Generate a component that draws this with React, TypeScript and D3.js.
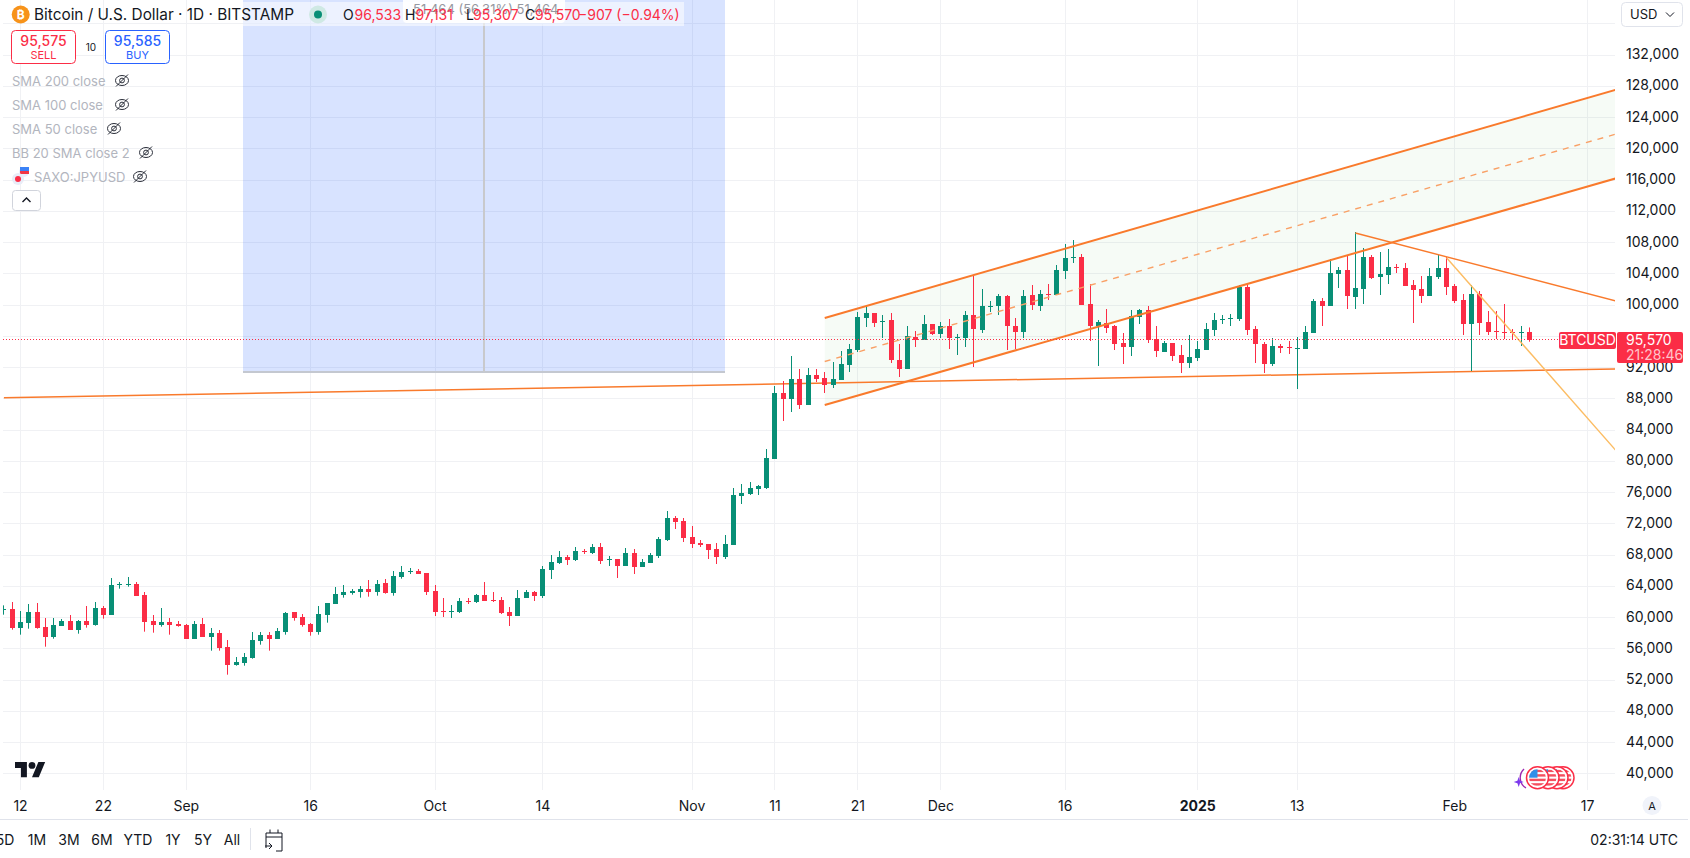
import React from "react";
import * as d3 from "d3";

const width = 1690;
const height = 858;
const plot = { left: 3, right: 1615, bottom: 790 };

const font = "Inter, 'Noto Sans', sans-serif";
const upColor = "#088f76";
const downColor = "#fb2d46";
const orange = "#f97a2c";
const textColor = "#131722";

// daily candles as [open, high, low, close], first one is 10 Aug 2024
const aug24 = [
  [61007, 61562, 60367, 61050], [61050, 61989, 58447, 58703], [58703, 60837, 57807, 59429], [59301, 61733, 58575, 60709],
  [60709, 61861, 58575, 58703], [58789, 59941, 56271, 57551], [57551, 59941, 57295, 59045], [58917, 59813, 58917, 59557],
  [59557, 60325, 58447, 58447], [58447, 59685, 57935, 59557], [59557, 61477, 58703, 59045], [59045, 61989, 58959, 61221],
  [61221, 61477, 59856, 60367], [60367, 65061, 60367, 64165], [64207, 64549, 63696, 64293], [64165, 65189, 63952, 64293],
  [64293, 64549, 62800, 62800], [62885, 63269, 58191, 59471], [59557, 60325, 58063, 59087], [59087, 61221, 58831, 59429],
  [59429, 59941, 57807, 59087], [59173, 59557, 58831, 58959],
];
const sep24 = [
  [59045, 59173, 57295, 57295], [57295, 59557, 57295, 59173], [59173, 59941, 57551, 57551], [57551, 58661, 55759, 58020],
  [58020, 58405, 55759, 56143], [56229, 57124, 52687, 53967], [53967, 54948, 53839, 54309], [54223, 55461, 53839, 54948],
  [54863, 58149, 54735, 57124], [57039, 58149, 56527, 57764], [57764, 58149, 55759, 57295], [57295, 58661, 57295, 58277],
  [58191, 60709, 57807, 60581], [60709, 60709, 59600, 59983], [60069, 60453, 58831, 59087], [59173, 59301, 57679, 58191],
  [58191, 61477, 57807, 60453], [60367, 61861, 59343, 61861], [61775, 63909, 61775, 63013], [62928, 64165, 62544, 63269],
  [63184, 63653, 62928, 63397], [63312, 64037, 62544, 63653], [63653, 64805, 62672, 63312], [63312, 64805, 62800, 64293],
  [64421, 64933, 63056, 63184], [63184, 65957, 62800, 65317], [65189, 66597, 64976, 65829], [65872, 66341, 65573, 65957],
  [65957, 66213, 65573, 65573], [65701, 65701, 62885, 63312],
];
const oct24 = [
  [63397, 64165, 60197, 60709], [60837, 62501, 60069, 60709], [60709, 61605, 59941, 60837], [60709, 62501, 60581, 62117],
  [62117, 62501, 61733, 61989], [61989, 63013, 61861, 62885], [62885, 64549, 62117, 62117], [62245, 63269, 61989, 62117],
  [62245, 62629, 60453, 60581], [60709, 61349, 58917, 60197], [60197, 63525, 60197, 62501], [62501, 63525, 62501, 63269],
  [63269, 63397, 62117, 62757], [62757, 66597, 62501, 66213], [66085, 68005, 64933, 67109], [66981, 68517, 66853, 67749],
  [67749, 68005, 66725, 67365], [67365, 69029, 67237, 68517], [68560, 68773, 68133, 68432], [68261, 69413, 68133, 69029],
  [69029, 69541, 66853, 67237], [67365, 67877, 66597, 67493], [67493, 67493, 65061, 66597], [66597, 68901, 66597, 68261],
  [68261, 68773, 65573, 66469], [66469, 67493, 66469, 67109], [66981, 68261, 66981, 68005], [67877, 70310, 67621, 70054],
  [69925, 73638, 69797, 72742], [72742, 72998, 71334, 72230], [72358, 72742, 69670, 70182],
];
const nov24 = [
  [70310, 71717, 68901, 69413], [69541, 69925, 69029, 69328], [69413, 69413, 67493, 68645], [68773, 69541, 66853, 67749],
  [67749, 70566, 67493, 69413], [69285, 76582, 69285, 75686], [75558, 77094, 74534, 75942], [75814, 77350, 75686, 76582],
  [76454, 76966, 75686, 76838], [76582, 81572, 76454, 80420], [80292, 89637, 80292, 88741], [88741, 90277, 85157, 87973],
  [87973, 93477, 86309, 90533], [90533, 91813, 86693, 87205], [87205, 91941, 87205, 91045], [91045, 91813, 90149, 90533],
  [90661, 91429, 88741, 89765], [89765, 92709, 89381, 90533], [90405, 94117, 90405, 92453], [92325, 95013, 91429, 94373],
  [94245, 99110, 93989, 98470], [98342, 99878, 97190, 98982], [98982, 98982, 97190, 97702], [97787, 98726, 95781, 97915],
  [98086, 98982, 92581, 92965], [92965, 95013, 90789, 91813], [91813, 97317, 91813, 96037], [95909, 96677, 94629, 95525],
  [95525, 98726, 95525, 97574], [97574, 97574, 96165, 96293],
];
const dec24 = [
  [96293, 97830, 95781, 97317], [97317, 98214, 94373, 95781], [95781, 96293, 93605, 95909], [95781, 99238, 94629, 98726],
  [98726, 103803, 92069, 96933], [96805, 102054, 96421, 99878], [99792, 100518, 99110, 99920], [99878, 101414, 98726, 101158],
  [101158, 101286, 94245, 97317], [97317, 98342, 94373, 96549], [96549, 101926, 95781, 101158], [101286, 102566, 99366, 100006],
  [99877, 101925, 99237, 101413], [101413, 102693, 100645, 101285], [101285, 105126, 101285, 104485], [104358, 107814, 103334, 106022],
  [106022, 108326, 105382, 106150], [106150, 106534, 100005, 100005], [100133, 102693, 95397, 97317], [97317, 98085, 92197, 97829],
  [97701, 99493, 96421, 97061], [97317, 97445, 94245, 95013], [95141, 96421, 92453, 94629], [94629, 99365, 93477, 98597],
  [98469, 99493, 97573, 99365], [99365, 99877, 95141, 95525], [95653, 97317, 93349, 94117], [93989, 95397, 93989, 95141],
  [95141, 95141, 92837, 93477], [93605, 94885, 91301, 92581], [92581, 96165, 91941, 93349],
];
const jan25 = [
  [93221, 95397, 92837, 94373], [94245, 97701, 94245, 96933], [96805, 98981, 96037, 98085], [98085, 98725, 97573, 98213],
  [98170, 98853, 97317, 98298], [98213, 102565, 97957, 102309], [102309, 102821, 96165, 96805], [96933, 97317, 92581, 95013],
  [95013, 95269, 91301, 92453], [92453, 95781, 92197, 94757], [94757, 95013, 93861, 94501], [94629, 95397, 93733, 94501],
  [94373, 95909, 89252, 94501], [94373, 97317, 94373, 96549], [96421, 100773, 96421, 100517], [100517, 100901, 97317, 99877],
  [99877, 105894, 99877, 104102], [103973, 104870, 102181, 104485], [104485, 106278, 99493, 101157], [101029, 109350, 99493, 102181],
  [102053, 107302, 100133, 106150], [106150, 106406, 103334, 103462], [103589, 106790, 101285, 103973], [103846, 107174, 102693, 104870],
  [104870, 105254, 104102, 104742], [104742, 105382, 102437, 102437], [102565, 103205, 97701, 101925], [102053, 103717, 100261, 101157],
  [101157, 104742, 101157, 103717], [103589, 106406, 103334, 104742], [104742, 106150, 101285, 102309],
];
const feb25 = [
  [102437, 102693, 100261, 100517], [100645, 101413, 96165, 97573], [97573, 102565, 91557, 101413], [101413, 101797, 96165, 97701],
  [97829, 99237, 96165, 96549], [96677, 99237, 95653, 96549], [96549, 100133, 95653, 96421], [96549, 96933, 95653, 96421],
  [96421, 97317, 94757, 96549], [96533, 97131, 95307, 95570],
];

const day = (m: number, d: number) => new Date(Date.UTC(m > 6 ? 2024 : 2025, m - 1, d));

const candleRows = [...aug24, ...sep24, ...oct24, ...nov24, ...dec24, ...jan25, ...feb25];
const firstDay = day(8, 10);

const timeTicks: [Date, string][] = [
  [day(8, 12), "12"], [day(8, 22), "22"], [day(9, 1), "Sep"], [day(9, 16), "16"], [day(10, 1), "Oct"],
  [day(10, 14), "14"], [day(11, 1), "Nov"], [day(11, 11), "11"], [day(11, 21), "21"], [day(12, 1), "Dec"],
  [day(12, 16), "16"], [day(1, 1), "2025"], [day(1, 13), "13"], [day(2, 1), "Feb"], [day(2, 17), "17"],
];
const priceTicks = d3.range(40000, 136001, 4000);
const priceLabelsHidden = [96000, 136000];

const lastClose = 95570;
const channelTop: [Date, number][] = [[day(11, 17), 98340], [day(2, 21), 127730]];
const channelBottom: [Date, number][] = [[day(11, 17), 87210], [day(2, 21), 116390]];
const supportLine: [Date, number][] = [[day(8, 10), 88140], [day(2, 21), 91830]];
const resistanceLine: [Date, number][] = [[day(1, 20), 109220], [day(2, 21), 100350]];
const breakLine: [Date, number][] = [[day(1, 31), 106060], [day(2, 21), 80690]];

const indicators = [
  { name: "SMA 200 close", iconX: 122 },
  { name: "SMA 100 close", iconX: 122 },
  { name: "SMA 50 close", iconX: 114 },
  { name: "BB 20 SMA close 2", iconX: 146 },
  { name: "SAXO:JPYUSD", iconX: 140 },
];
const ranges = [["5D", 5], ["1M", 37], ["3M", 69], ["6M", 102], ["YTD", 138], ["1Y", 173], ["5Y", 203], ["All", 232]] as const;
const eventCircles = [1563, 1557, 1548, 1537.5];

const x = d3.scaleUtc().domain([day(8, 12), day(2, 17)]).range([20.5, 1587.5]);
const y = d3.scaleLinear().domain([40000, 136000]).range([773.8, 23.8]);
const crisp = (v: number) => Math.floor(v) + 0.5;
const lineGen = d3.line<[Date, number]>().x(d => x(d[0])).y(d => y(d[1]));

const EyeOff = ({ cx, cy }: { cx: number; cy: number }) => (
  <g transform={`translate(${cx},${cy})`} fill="none" stroke="#2a2e39" strokeWidth={1}>
    <ellipse cx={0} cy={0} rx={6.5} ry={5} />
    <circle cx={0} cy={0} r={2.4} />
    <line x1={-6} y1={6} x2={6} y2={-6} />
  </g>
);

const Flag = ({ cx, cy }: { cx: number; cy: number }) => {
  const id = `flag${Math.round(cx * 10)}`;
  return (
    <g>
      <clipPath id={id}><circle cx={cx} cy={cy} r={8.5} /></clipPath>
      <circle cx={cx} cy={cy} r={11} fill="#fff" stroke={downColor} strokeWidth={1.5} />
      <g clipPath={`url(#${id})`}>
        <rect x={cx - 9} y={cy - 9} width={18} height={18} fill="#fff" />
        {[-8, -3.5, 1, 5.5].map(o => <rect key={o} x={cx - 9} y={cy + o} width={18} height={2.4} fill="#f4505f" />)}
        <rect x={cx - 9} y={cy - 9} width={9} height={9} fill="#2f8fe8" />
      </g>
    </g>
  );
};

export default function App() {
  const rows = candleRows.map((r, i) => ({
    date: d3.utcDay.offset(firstDay, i),
    open: r[0], high: r[1], low: r[2], close: r[3],
  }));

  const channelArea = d3.area<number>()
    .x(i => x(channelTop[i][0]))
    .y0(i => y(channelTop[i][1]))
    .y1(i => y(channelBottom[i][1]))([0, 1]) as string;
  const channelMiddle: [Date, number][] = channelTop.map((p, i) => [p[0], (p[1] + channelBottom[i][1]) / 2]);

  const lastY = crisp(y(lastClose));

  return (
    <svg width={width} height={height} fontFamily={font} style={{ position: "absolute", left: 0, top: 0, display: "block" }}>
      <rect width={width} height={height} fill="#fff" />
      <clipPath id="plot"><rect x={plot.left} y={0} width={plot.right - plot.left} height={plot.bottom} /></clipPath>

      {/* grid */}
      {priceTicks.map(t => (
        <line key={t} x1={plot.left} x2={plot.right} y1={crisp(y(t))} y2={crisp(y(t))} stroke="#f0f1f4" />
      ))}
      {timeTicks.map(([d, label]) => (
        <line key={label + d.getTime()} x1={crisp(x(d))} x2={crisp(x(d))} y1={0} y2={plot.bottom} stroke="#f0f1f4" />
      ))}

      <g clipPath="url(#plot)">
        {/* blue measure box */}
        <rect x={243} y={0} width={482} height={371} fill="rgba(41,98,255,0.18)" />
        <line x1={243} x2={725} y1={372} y2={372} stroke="#c4c8d0" strokeWidth={2} />
        <line x1={484} x2={484} y1={0} y2={372} stroke="#c8c9cc" strokeWidth={2} />

        <path d={channelArea} fill="rgba(76,175,80,0.05)" />
        <path d={lineGen(supportLine) as string} stroke={orange} strokeWidth={1.5} fill="none" />

        {/* candles */}
        {rows.map(d => {
          const cx = crisp(x(d.date));
          const color = d.close >= d.open ? upColor : downColor;
          const top = Math.round(y(Math.max(d.open, d.close)));
          const bottom = Math.round(y(Math.min(d.open, d.close)));
          return (
            <g key={d.date.getTime()}>
              <line x1={cx} x2={cx} y1={y(d.high)} y2={y(d.low)} stroke={color} />
              <rect x={cx - 2.5} y={top} width={5} height={Math.max(1, bottom - top)} fill={color} />
            </g>
          );
        })}

        <path d={lineGen(channelTop) as string} stroke={orange} strokeWidth={2} fill="none" />
        <path d={lineGen(channelBottom) as string} stroke={orange} strokeWidth={2} fill="none" />
        <path d={lineGen(channelMiddle) as string} stroke="#f9a066" strokeWidth={1.4} strokeDasharray="6 6" fill="none" />
        <path d={lineGen(resistanceLine) as string} stroke={orange} strokeWidth={1.4} fill="none" />
        <path d={lineGen(breakLine) as string} stroke="#fcbc62" strokeWidth={1.4} fill="none" />
      </g>

      <line x1={plot.left} x2={1559} y1={lastY} y2={lastY} stroke={downColor} strokeDasharray="1 2" />

      {/* legend */}
      <rect x={243} y={2} width={441} height={24} fill="#fff" fillOpacity={0.55} />
      <circle cx={20.7} cy={14.5} r={9} fill="#f7931a" />
      <text x={20.7} y={19} textAnchor="middle" fontSize={12} fontWeight={700} fill="#fff">₿</text>
      <text x={34} y={20} fontSize={16} fill={textColor} textLength={260} lengthAdjust="spacingAndGlyphs">Bitcoin / U.S. Dollar · 1D · BITSTAMP</text>
      <circle cx={318} cy={14.5} r={9} fill="#cfe9e4" />
      <circle cx={318} cy={14.5} r={4} fill={upColor} />

      <rect x={403} y={-6} width={162} height={29} rx={4} fill="#fff" fillOpacity={0.92} />
      <text x={413} y={14} fontSize={13} fill="#9598a1">51,464 (56.31%) 51,464</text>
      {[["O", 343, "96,533", 354.5], ["H", 405, "97,131", 415.5], ["L", 466, "95,307", 473], ["C", 525, "95,570", 535]].map(([k, kx, v, vx]) => (
        <g key={k as string} fontSize={14}>
          <text x={kx as number} y={19.5} fill={textColor}>{k}</text>
          <text x={vx as number} y={19.5} fill={downColor}>{v}</text>
        </g>
      ))}
      <text x={578} y={19.5} fontSize={14} fill={downColor}>−907 (−0.94%)</text>

      {/* buy and sell */}
      <rect x={11.5} y={30.5} width={64} height={33} rx={4} fill="#fff" stroke={downColor} />
      <text x={43.5} y={46} textAnchor="middle" fontSize={14} fontWeight={500} fill={downColor}>95,575</text>
      <text x={43.5} y={59} textAnchor="middle" fontSize={11} fill={downColor}>SELL</text>
      <text x={91} y={51} textAnchor="middle" fontSize={10} fill={textColor}>10</text>
      <rect x={105.5} y={30.5} width={64} height={33} rx={4} fill="#fff" stroke="#2962ff" />
      <text x={137.5} y={46} textAnchor="middle" fontSize={14} fontWeight={500} fill="#2962ff">95,585</text>
      <text x={137.5} y={59} textAnchor="middle" fontSize={11} fill="#2962ff">BUY</text>

      {indicators.map((d, i) => (
        <g key={d.name}>
          <text x={i === 4 ? 34 : 12} y={85.5 + i * 24} fontSize={13} fill="#b2b5be">{d.name}</text>
          <EyeOff cx={d.iconX} cy={80.5 + i * 24} />
        </g>
      ))}
      <circle cx={24} cy={172} r={5} fill="#e8eefc" />
      <rect x={20} y={167} width={9} height={4} fill="#3b82f6" />
      <rect x={20} y={171} width={9} height={3} fill="#f23645" />
      <circle cx={18} cy={179} r={6} fill="#e9edf8" />
      <circle cx={18} cy={179} r={3} fill={downColor} />
      <rect x={12.5} y={190.5} width={28} height={20} rx={3} fill="#fff" stroke="#d1d4dc" />
      <path d="M22.5 202 L26.5 198 L30.5 202" fill="none" stroke={textColor} strokeWidth={1.4} />

      {/* logo */}
      <g transform="translate(15,758.6) scale(0.85)" fill="#131722">
        <path d="M14 22H7V11H0V4h14v18zM28 22h-8l7.5-18h8L28 22z" />
        <circle cx={20} cy={8} r={4} />
      </g>

      {/* events */}
      <path d="M1524 769 A12 12 0 0 0 1526 788" fill="none" stroke="#9c27b0" strokeWidth={1.4} />
      <path d="M1518.7 777 L1520 780.7 L1523.7 782 L1520 783.3 L1518.7 787 L1517.4 783.3 L1513.7 782 L1517.4 780.7 Z" fill="#7c3aed" />
      {eventCircles.map(cx => <Flag key={cx} cx={cx} cy={777.7} />)}

      {/* price axis */}
      {priceTicks.filter(t => !priceLabelsHidden.includes(t)).map(t => (
        <text key={t} x={1626} y={y(t) + 4} fontSize={14} fill={textColor}>{d3.format(",")(t)}</text>
      ))}
      <rect x={1621.5} y={2.5} width={61} height={24} rx={4} fill="#fff" stroke="#e0e3eb" />
      <text x={1630} y={19} fontSize={13} fill={textColor}>USD</text>
      <path d="M1666 12.5 L1670 16.5 L1674 12.5" fill="none" stroke={textColor} />

      <rect x={1559} y={332} width={57} height={17} rx={2} fill={downColor} />
      <text x={1587.5} y={345} textAnchor="middle" fontSize={14} fill="#fff">BTCUSD</text>
      <rect x={1617} y={332} width={66} height={31} rx={2} fill={downColor} />
      <text x={1626} y={345} fontSize={14} fill="#fff">95,570</text>
      <text x={1626} y={360} fontSize={14} fill="#ffc4cb">21:28:46</text>

      {/* time axis */}
      {timeTicks.map(([d, label]) => (
        <text key={label + d.getTime()} x={x(d)} y={811} textAnchor="middle" fontSize={14}
          fontWeight={label === "2025" ? 700 : 400} fill={textColor}>{label}</text>
      ))}
      <circle cx={1652} cy={805.5} r={9.5} fill="#f0f3fa" />
      <text x={1652} y={810} textAnchor="middle" fontSize={11} fill={textColor}>A</text>
      <line x1={0} x2={1688} y1={819.5} y2={819.5} stroke="#e0e3eb" />

      {/* bottom toolbar */}
      {ranges.map(([label, cx]) => (
        <text key={label} x={cx} y={845} textAnchor="middle" fontSize={14} fill={textColor}>{label}</text>
      ))}
      <line x1={250.5} x2={250.5} y1={828} y2={850} stroke="#e0e3eb" />
      <g fill="none" stroke={textColor} strokeWidth={1}>
        <path d="M266 833 V848 M266 833 H282 V851 H276 M266 837 H282 M270 829.5 V833 M278 829.5 V833" />
        <path d="M265 846 H272 M269 843 L272 846 L269 849" />
      </g>
      <text x={1678} y={845} textAnchor="end" fontSize={14} fill={textColor}>02:31:14 UTC</text>
    </svg>
  );
}
